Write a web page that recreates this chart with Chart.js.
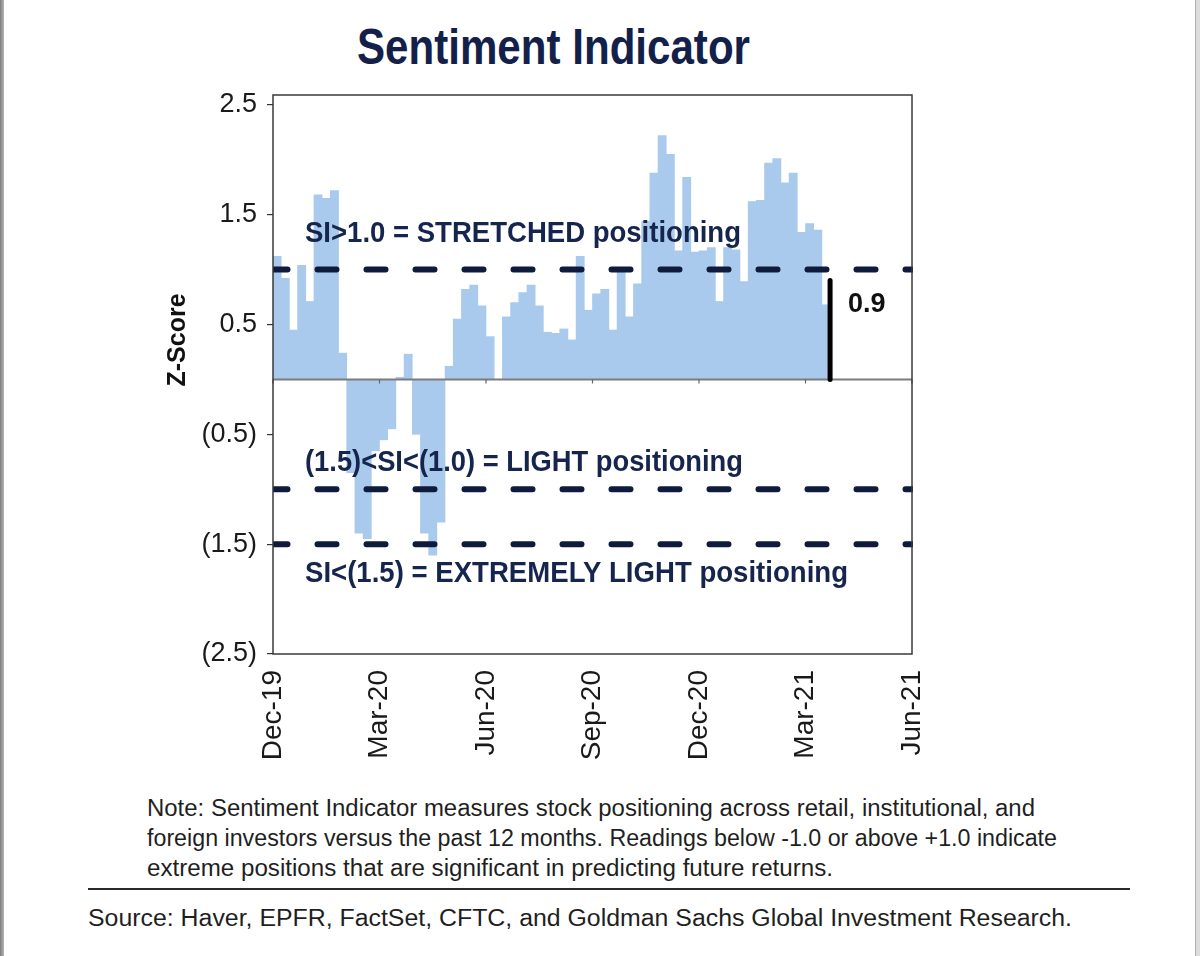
<!DOCTYPE html>
<html>
<head>
<meta charset="utf-8">
<script src="https://cdn.jsdelivr.net/npm/chart.js@4.4.1/dist/chart.umd.min.js"></script>
<style>
  html, body { margin: 0; padding: 0; background: #fff; }
  body { width: 1200px; height: 956px; position: relative; overflow: hidden; font-family: "Liberation Sans", Arial, sans-serif; }
  #stripL { position: absolute; left: 0; top: 0; width: 4px; height: 956px; background: linear-gradient(to right, #7d7d7d, #b5b5b5); }
  #stripR { position: absolute; left: 1195px; top: 0; width: 5px; height: 956px; background: #dcdcdc; border-left: 1px solid #b0b0b0; box-sizing: border-box; }
  #chartCanvas { position: absolute; left: 0; top: 0; }
  .fit { position: absolute; white-space: nowrap; display: inline-block; transform-origin: 0 0; }
  #title { left: 357px; top: 22px; font-size: 50px; line-height: 50px; font-weight: bold; color: #13214a; }
  .note { font-size: 23px; line-height: 30px; color: #1f1f1f; left: 147px; }
  #sep { position: absolute; left: 88px; top: 888px; width: 1042px; height: 2px; background: #2a2a2a; }
  #source { left: 88px; top: 903px; font-size: 23px; line-height: 30px; color: #1f1f1f; }
</style>
</head>
<body>
<div id="stripL"></div>
<div id="stripR"></div>
<div id="title" class="fit" data-w="393">Sentiment Indicator</div>
<canvas id="chartCanvas" width="1200" height="780"></canvas>
<div class="fit note" style="top:793px" data-w="888">Note: Sentiment Indicator measures stock positioning across retail, institutional, and</div>
<div class="fit note" style="top:823px" data-w="910">foreign investors versus the past 12 months. Readings below -1.0 or above +1.0 indicate</div>
<div class="fit note" style="top:853px" data-w="686">extreme positions that are significant in predicting future returns.</div>
<div id="sep"></div>
<div id="source" class="fit" data-w="984">Source: Haver, EPFR, FactSet, CFTC, and Goldman Sachs Global Investment Research.</div>

<script>
// ---------------- DATA ----------------
// Weekly Sentiment Indicator z-scores, starting in Dec-19 (week index 0)
const siValues = [
  1.12, 0.92, 0.45, 1.04, 0.71, 1.68, 1.65, 1.72, 0.24, -0.85,
  -1.40, -1.45, -0.65, -0.55, -0.45, 0.02, 0.23, -0.50, -1.40, -1.60,
  -1.30, 0.12, 0.55, 0.82, 0.86, 0.67, 0.39, 0.00, 0.57, 0.70,
  0.79, 0.86, 0.67, 0.43, 0.42, 0.46, 0.36, 1.12, 0.63, 0.78,
  0.82, 0.45, 1.01, 0.57, 0.87, 1.44, 1.88, 2.22, 2.05, 1.17,
  1.84, 1.16, 1.17, 1.20, 0.71, 1.20, 1.18, 0.89, 1.62, 1.63,
  1.97, 2.01, 1.79, 1.88, 1.34, 1.42, 1.36, 0.68
];
const latestWeek = 68;
const latestValue = 0.9;
const latestLabel = '0.9';

const xTickWeeks = [0, 13, 26, 39, 52, 65, 78];
const xTickLabels = ['Dec-19', 'Mar-20', 'Jun-20', 'Sep-20', 'Dec-20', 'Mar-21', 'Jun-21'];

const yTickValues = [2.5, 1.5, 0.5, -0.5, -1.5, -2.5];
const yTickLabels = ['2.5', '1.5', '0.5', '(0.5)', '(1.5)', '(2.5)'];

const thresholds = [1.0, -1.0, -1.5];
const bandLabels = ['SI>1.0 = STRETCHED positioning', '(1.5)<SI<(1.0) = LIGHT positioning', 'SI<(1.5) = EXTREMELY LIGHT positioning'];
const bandLabelLevels = [1.33, -0.76, -1.77];
const yAxisTitle = 'Z-Score';

// ---------------- STYLE ----------------
const FONT = '"Liberation Sans", Arial, sans-serif';
const barColor = '#a9caec';
const navy = '#0e1b3d';
const bandLabelWidths = [436, 438, 543];

// fit HTML texts to their widths
document.querySelectorAll('.fit').forEach(el => {
  const w = el.getBoundingClientRect().width;
  const target = parseFloat(el.dataset.w);
  el.style.transform = 'scaleX(' + (target / w) + ')';
});

function fitText(ctx, text, x, y, targetW) {
  const w = ctx.measureText(text).width;
  ctx.save();
  ctx.translate(x, y);
  ctx.scale(targetW / w, 1);
  ctx.fillText(text, 0, 0);
  ctx.restore();
}

const overlay = {
  id: 'overlay',
  afterDatasetsDraw(chart) {
    const { ctx, chartArea: a, scales: { x, y } } = chart;
    ctx.save();
    // zero line
    const y0 = y.getPixelForValue(0);
    ctx.strokeStyle = '#7c7c7c';
    ctx.lineWidth = 2;
    ctx.beginPath(); ctx.moveTo(a.left, y0); ctx.lineTo(a.right, y0); ctx.stroke();
    ctx.lineWidth = 1.2;
    ctx.strokeStyle = '#666';
    xTickWeeks.forEach(w => {
      const px = x.getPixelForValue(w);
      ctx.beginPath(); ctx.moveTo(px, y0); ctx.lineTo(px, y0 + 4); ctx.stroke();
    });
    // threshold dashed lines
    ctx.save();
    ctx.beginPath(); ctx.rect(a.left, a.top, a.right - a.left + 1, a.bottom - a.top); ctx.clip();
    ctx.strokeStyle = navy;
    ctx.lineWidth = 6;
    ctx.lineCap = 'round';
    ctx.setLineDash([19, 30]);
    ctx.lineDashOffset = 4.5;
    thresholds.forEach(t => {
      const py = y.getPixelForValue(t);
      ctx.beginPath(); ctx.moveTo(a.left, py); ctx.lineTo(a.right + 3, py); ctx.stroke();
    });
    ctx.restore();
    // latest value marker
    const lx = x.getPixelForValue(latestWeek);
    ctx.strokeStyle = '#000';
    ctx.lineWidth = 5;
    ctx.lineCap = 'round';
    ctx.beginPath(); ctx.moveTo(lx, y0); ctx.lineTo(lx, y.getPixelForValue(latestValue)); ctx.stroke();
    ctx.fillStyle = '#111';
    ctx.font = 'bold 27px ' + FONT;
    ctx.textBaseline = 'middle';
    ctx.fillText(latestLabel, lx + 18, y.getPixelForValue(latestValue * 0.76));
    // band labels
    ctx.fillStyle = '#15254d';
    ctx.font = 'bold 30px ' + FONT;
    bandLabels.forEach((t, i) => {
      fitText(ctx, t, a.left + 32, y.getPixelForValue(bandLabelLevels[i]), bandLabelWidths[i]);
    });
    // plot box
    ctx.strokeStyle = '#3a3a3a';
    ctx.lineWidth = 1.5;
    ctx.strokeRect(a.left, a.top, a.right - a.left, a.bottom - a.top);
    // y axis title
    ctx.save();
    ctx.translate(178, 340);
    ctx.rotate(-Math.PI / 2);
    ctx.fillStyle = '#111';
    ctx.font = 'bold 25px ' + FONT;
    ctx.textAlign = 'center';
    ctx.textBaseline = 'middle';
    ctx.fillText(yAxisTitle, 0, 0);
    ctx.restore();
    ctx.restore();
  }
};

new Chart(document.getElementById('chartCanvas'), {
  type: 'bar',
  data: {
    datasets: [{
      data: siValues.map((v, i) => ({ x: i + 0.5, y: v })),
      backgroundColor: barColor,
      borderWidth: 0,
      barPercentage: 1,
      categoryPercentage: 1
    }]
  },
  options: {
    responsive: false,
    animation: false,
    events: [],
    layout: { padding: { left: 160, right: 288, top: 95, bottom: 0 } },
    plugins: { legend: { display: false }, tooltip: { enabled: false }, title: { display: false } },
    scales: {
      x: {
        type: 'linear',
        min: 0,
        max: 78,
        offset: false,
        afterBuildTicks: s => { s.ticks = xTickWeeks.map(v => ({ value: v })); },
        afterFit: s => { s.height = 126; },
        grid: { display: false, offset: false },
        border: { display: false },
        ticks: {
          autoSkip: false,
          minRotation: 90,
          maxRotation: 90,
          padding: 8,
          color: '#1a1a1a',
          font: { family: FONT, size: 28 },
          callback: v => xTickLabels[xTickWeeks.indexOf(v)]
        }
      },
      y: {
        min: -2.5,
        max: 2.59,
        afterBuildTicks: s => { s.ticks = yTickValues.map(v => ({ value: v })); },
        afterFit: s => { s.width = 113; },
        grid: { drawOnChartArea: false, drawTicks: true, tickLength: 6, color: '#333', lineWidth: 1.2 },
        border: { display: false },
        ticks: {
          padding: 10,
          color: '#1a1a1a',
          font: { family: FONT, size: 27 },
          callback: v => yTickLabels[yTickValues.indexOf(v)]
        }
      }
    }
  },
  plugins: [overlay]
});
</script>
</body>
</html>
